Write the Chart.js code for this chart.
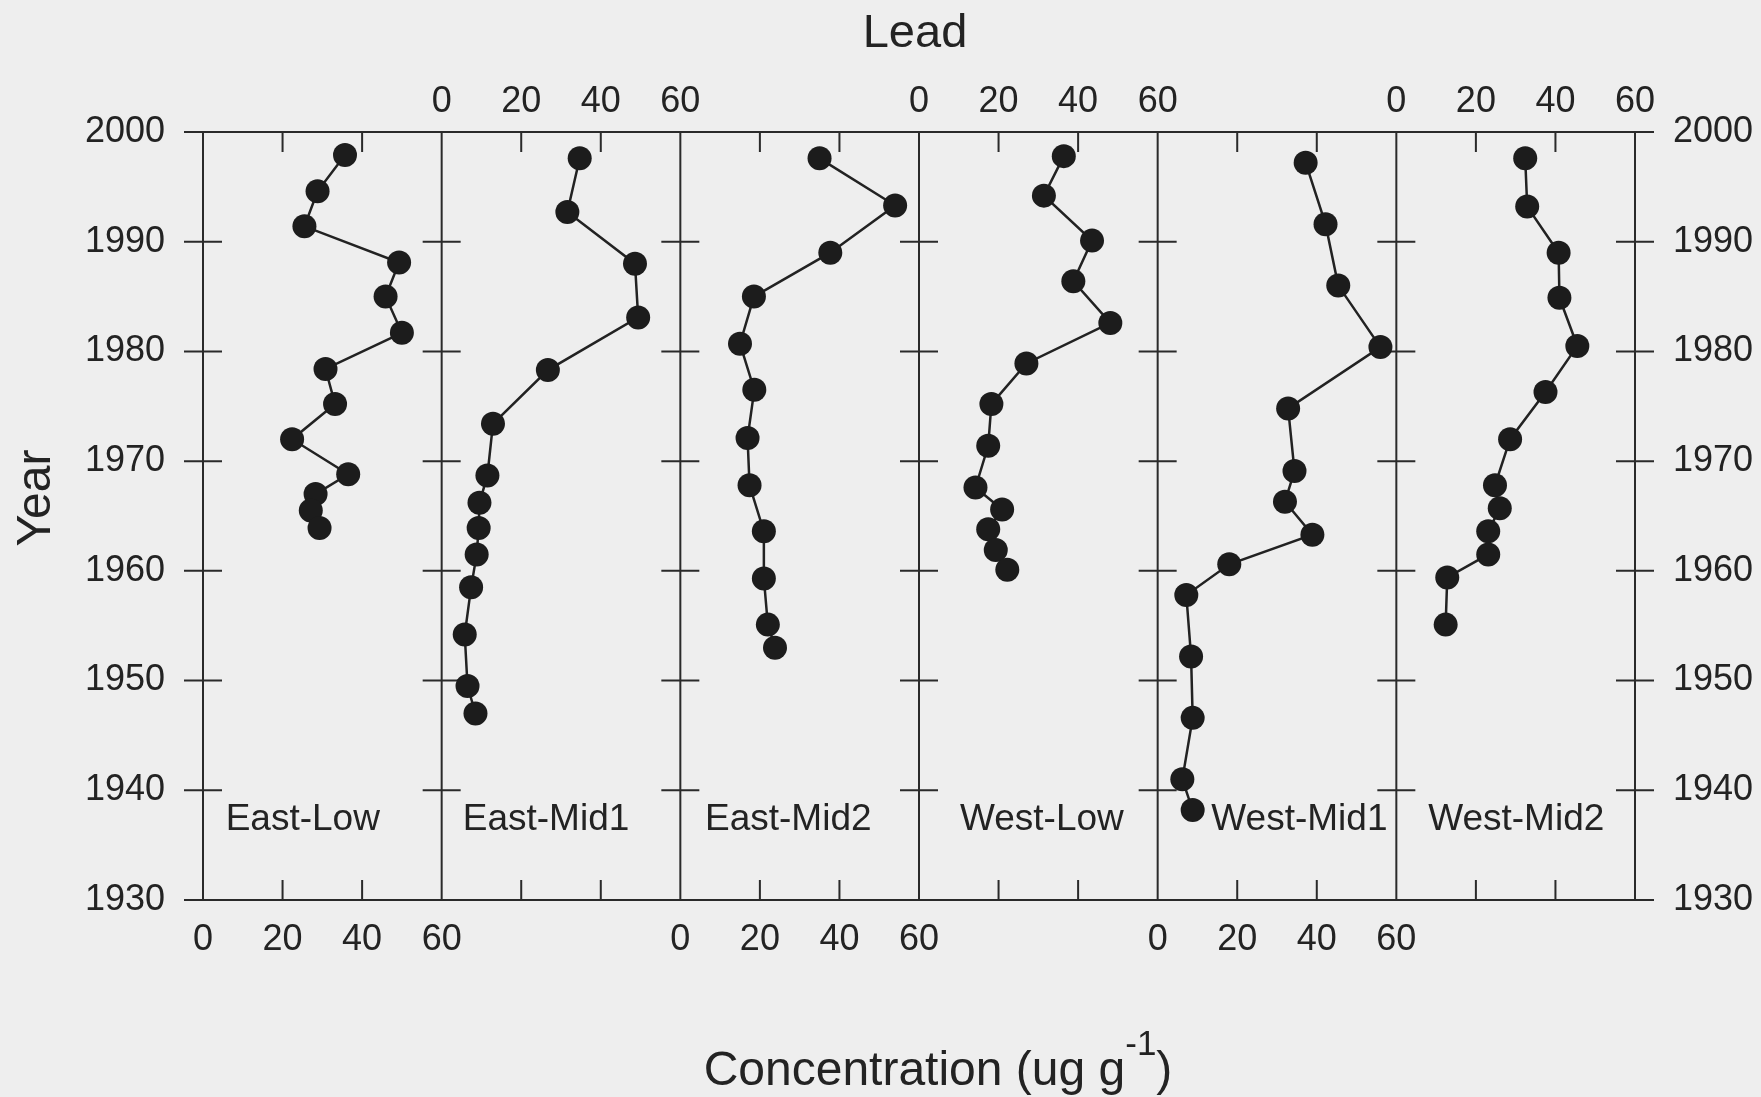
<!DOCTYPE html>
<html>
<head>
<meta charset="utf-8">
<title>Lead</title>
<script src="https://cdn.jsdelivr.net/npm/chart.js@4.4.1/dist/chart.umd.min.js"></script>
<style>
  html, body { margin: 0; padding: 0; background: #eeeeee; }
  #wrap { width: 1761px; height: 1097px; }
</style>
</head>
<body>
<div id="wrap"><canvas id="leadChart"></canvas></div>
<script>
// panel names, left to right
const panelNames = ['East-Low', 'East-Mid1', 'East-Mid2', 'West-Low', 'West-Mid1', 'West-Mid2'];

// year / lead concentration (ug g-1) per site
const eastLowYear = [1997.9, 1994.6, 1991.4, 1988.1, 1985.0, 1981.7, 1978.4, 1975.2, 1972.0, 1968.8, 1967.0, 1965.5, 1963.9];
const eastLowLead = [35.7, 28.8, 25.5, 49.3, 45.9, 50.0, 30.8, 33.2, 22.4, 36.5, 28.3, 27.1, 29.3];

const eastMid1Year = [1997.6, 1992.7, 1988.0, 1983.1, 1978.3, 1973.4, 1968.7, 1966.2, 1963.9, 1961.5, 1958.5, 1954.2, 1949.5, 1947.0];
const eastMid1Lead = [34.7, 31.6, 48.6, 49.4, 26.7, 12.9, 11.5, 9.5, 9.3, 8.8, 7.4, 5.8, 6.5, 8.5];

const eastMid2Year = [1997.6, 1993.3, 1989.0, 1985.0, 1980.7, 1976.5, 1972.1, 1967.8, 1963.6, 1959.3, 1955.1, 1953.0];
const eastMid2Lead = [35.0, 54.0, 37.7, 18.5, 15.0, 18.6, 16.9, 17.4, 21.0, 21.0, 22.0, 23.8];

const westLowYear = [1997.8, 1994.2, 1990.1, 1986.4, 1982.6, 1978.9, 1975.2, 1971.4, 1967.6, 1965.6, 1963.8, 1961.9, 1960.1];
const westLowLead = [36.4, 31.4, 43.5, 38.8, 48.1, 27.0, 18.2, 17.4, 14.2, 20.9, 17.4, 19.3, 22.2];

const westMid1Year = [1997.2, 1991.6, 1986.0, 1980.4, 1974.8, 1969.1, 1966.3, 1963.3, 1960.6, 1957.8, 1952.2, 1946.6, 1941.0, 1938.2];
const westMid1Lead = [37.2, 42.2, 45.4, 56.0, 32.8, 34.4, 32.0, 38.9, 18.0, 7.2, 8.4, 8.8, 6.2, 8.8];

const westMid2Year = [1997.6, 1993.2, 1989.0, 1984.9, 1980.5, 1976.3, 1972.0, 1967.8, 1965.7, 1963.6, 1961.5, 1959.4, 1955.1];
const westMid2Lead = [32.4, 32.9, 40.8, 41.0, 45.5, 37.5, 28.6, 24.8, 26.0, 23.1, 23.1, 12.8, 12.4];

// axis ticks
const yearTicks = [1930, 1940, 1950, 1960, 1970, 1980, 1990, 2000];
const concTicks = [0, 20, 40, 60];

// where the site name sits inside each panel (concentration, year)
const nameAtConc = [5.7, 5.3, 6.2, 10.3, 13.5, 8.0];
const nameAtYear = 1936.4;

const fontFamily = '"Liberation Sans", Arial, sans-serif';
const ink = '#232323';

const panelYears = [eastLowYear, eastMid1Year, eastMid2Year, westLowYear, westMid1Year, westMid2Year];
const panelLead = [eastLowLead, eastMid1Lead, eastMid2Lead, westLowLead, westMid1Lead, westMid2Lead];

const datasets = panelNames.map((name, i) => ({
  label: name,
  data: panelYears[i].map((yr, k) => ({x: panelLead[i][k], y: yr})),
  xAxisID: 'b' + i,
  yAxisID: 'y',
  showLine: true,
  borderColor: '#222222',
  borderWidth: 2.5,
  pointRadius: 12,
  pointBackgroundColor: '#1c1c1c',
  pointBorderWidth: 0,
  clip: false
}));

const tickFont = {family: fontFamily, size: 36};

function yearAxis(pos, w) {
  return {
    type: 'linear',
    axis: 'y',
    position: pos,
    min: yearTicks[0],
    max: yearTicks[yearTicks.length - 1],
    afterBuildTicks: s => { s.ticks = yearTicks.map(v => ({value: v})); },
    ticks: {color: ink, font: tickFont, padding: 38, callback: v => String(v)},
    grid: {display: false, drawTicks: false},
    border: {display: false},
    afterFit: s => { s.width = w; }
  };
}

const scales = {y: yearAxis('left', 203), y2: yearAxis('right', 126)};

panelNames.forEach((name, i) => {
  scales['b' + i] = {
    type: 'linear', axis: 'x', position: 'bottom', stack: 'conc', stackWeight: 1,
    min: 0, max: 60,
    afterBuildTicks: s => { s.ticks = concTicks.map(v => ({value: v})); },
    ticks: {display: i % 2 === 0, color: ink, font: tickFont, padding: 18, maxRotation: 0, autoSkip: false},
    grid: {display: false, drawTicks: false},
    border: {display: false},
    afterFit: s => { s.height = 197; }
  };
});
// top boxes are laid out right to left, so t5 sits over the first panel
panelNames.forEach((name, i) => {
  scales['t' + i] = {
    type: 'linear', axis: 'x', position: 'top', stack: 'conc', stackWeight: 1,
    min: 0, max: 60,
    afterBuildTicks: s => { s.ticks = concTicks.map(v => ({value: v})); },
    ticks: {display: i % 2 === 0, color: ink, font: tickFont, padding: 8, maxRotation: 0, autoSkip: false},
    grid: {display: false, drawTicks: false},
    border: {display: false},
    afterFit: s => { s.height = 132; }
  };
});

// frame, cross ticks, site names and the three axis titles
const framePlugin = {
  id: 'frame',
  beforeDatasetsDraw(chart) {
    const {ctx, chartArea: a, scales: sc} = chart;
    const edges = panelNames.map((n, i) => sc['b' + i].left);
    edges.push(sc['b5'].right);
    ctx.save();
    ctx.strokeStyle = '#2a2a2a';
    ctx.lineWidth = 2;
    ctx.beginPath();
    edges.forEach(x => { ctx.moveTo(x, a.top); ctx.lineTo(x, a.bottom); });
    ctx.moveTo(a.left - 19, a.top); ctx.lineTo(a.right + 19, a.top);
    ctx.moveTo(a.left - 19, a.bottom); ctx.lineTo(a.right + 19, a.bottom);
    yearTicks.slice(1, -1).forEach(yr => {
      const py = sc.y.getPixelForValue(yr);
      edges.forEach(x => { ctx.moveTo(x - 19, py); ctx.lineTo(x + 19, py); });
    });
    panelNames.forEach((n, i) => {
      const s = sc['b' + i];
      concTicks.slice(1, -1).forEach(v => {
        const px = s.getPixelForValue(v);
        ctx.moveTo(px, a.top); ctx.lineTo(px, a.top + 20);
        ctx.moveTo(px, a.bottom); ctx.lineTo(px, a.bottom - 20);
      });
    });
    ctx.stroke();

    ctx.fillStyle = ink;
    ctx.font = '37px ' + fontFamily;
    ctx.textAlign = 'left';
    ctx.textBaseline = 'alphabetic';
    panelNames.forEach((n, i) => {
      ctx.fillText(n, sc['b' + i].getPixelForValue(nameAtConc[i]), sc.y.getPixelForValue(nameAtYear));
    });
    ctx.restore();
  },
  afterDraw(chart) {
    const {ctx, chartArea: a} = chart;
    ctx.save();
    ctx.fillStyle = ink;
    ctx.textBaseline = 'alphabetic';

    ctx.font = '47px ' + fontFamily;
    ctx.textAlign = 'center';
    ctx.fillText('Lead', (a.left + a.right) / 2 - 4, 47);

    ctx.save();
    ctx.translate(50, 498);
    ctx.rotate(-Math.PI / 2);
    ctx.font = '48px ' + fontFamily;
    ctx.fillText('Year', 0, 0);
    ctx.restore();

    const main = 'Concentration (ug g';
    const sup = '-1';
    const close = ')';
    ctx.font = '48px ' + fontFamily;
    const wMain = ctx.measureText(main).width;
    const wClose = ctx.measureText(close).width;
    ctx.font = '35px ' + fontFamily;
    const wSup = ctx.measureText(sup).width;
    let x = 938 - (wMain + wSup + wClose) / 2;
    ctx.textAlign = 'left';
    ctx.font = '48px ' + fontFamily;
    ctx.fillText(main, x, 1085);
    x += wMain;
    ctx.font = '35px ' + fontFamily;
    ctx.fillText(sup, x, 1055);
    x += wSup;
    ctx.font = '48px ' + fontFamily;
    ctx.fillText(close, x, 1085);
    ctx.restore();
  }
};

const ctx = document.getElementById('leadChart').getContext('2d');

const leadChart = new Chart(ctx, {
  type: 'scatter',
  data: {datasets},
  options: {
    responsive: true,
    maintainAspectRatio: false,
    animation: false,
    events: [],
    layout: {padding: 0},
    plugins: {legend: {display: false}, tooltip: {enabled: false}, title: {display: false}},
    scales
  },
  plugins: [framePlugin]
});
</script>
</body>
</html>
